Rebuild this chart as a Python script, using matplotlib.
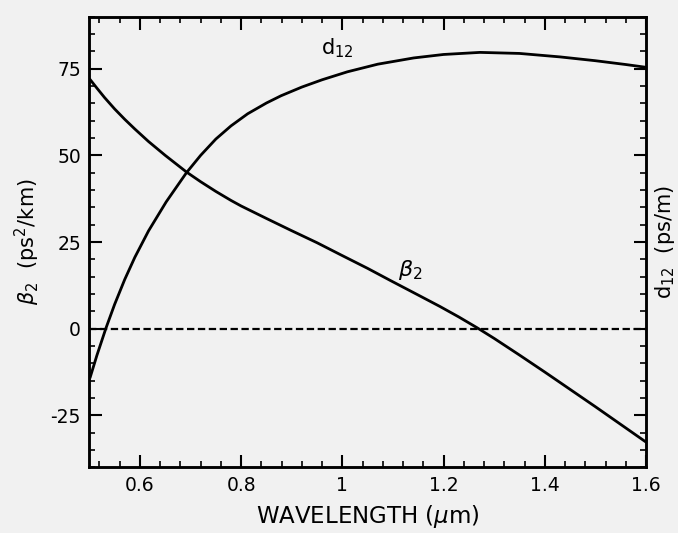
"""
Group-velocity dispersion beta2 and walk-off d12 versus wavelength
"""

import matplotlib.pyplot as plt
from matplotlib.ticker import MultipleLocator

#---------------------------------------------------------------------------------------------------
# Data
#---------------------------------------------------------------------------------------------------

# beta2 curve (ps^2/km)
wl_beta2 = [0.502, 0.515, 0.53, 0.55, 0.57, 0.59, 0.617, 0.65, 0.692, 0.72, 0.75, 0.78, 0.80,
            0.85, 0.898, 0.95, 0.997, 1.05, 1.095, 1.15, 1.193, 1.23, 1.266, 1.30, 1.35, 1.40,
            1.436, 1.50, 1.55, 1.60]
beta2 = [71.8, 69.4, 66.7, 63.4, 60.4, 57.6, 54.0, 50.0, 45.2, 42.4, 39.6, 37.0, 35.4,
         31.8, 28.4, 24.8, 21.3, 17.4, 13.9, 9.7, 6.4, 3.4, 0.3, -2.8, -7.6, -12.5,
         -16.1, -22.5, -27.6, -32.7]

# d12 curve (ps/m)
wl_d12 = [0.502, 0.515, 0.533, 0.55, 0.57, 0.59, 0.617, 0.652, 0.692, 0.72, 0.75, 0.78, 0.813,
          0.85, 0.879, 0.92, 0.96, 1.01, 1.07, 1.141, 1.20, 1.272, 1.35, 1.43, 1.50, 1.56, 1.60]
d12 = [-13.9, -7.7, 0.2, 7.0, 14.2, 20.6, 28.2, 36.6, 45.0, 50.0, 54.7, 58.5, 62.0,
       65.1, 67.2, 69.7, 71.8, 74.1, 76.3, 78.1, 79.1, 79.7, 79.4, 78.4, 77.3, 76.2, 75.4]

xticks = [0.6, 0.8, 1.0, 1.2, 1.4, 1.6]
xticklabels = ['0.6', '0.8', '1', '1.2', '1.4', '1.6']
yticks = [-25, 0, 25, 50, 75]

#---------------------------------------------------------------------------------------------------
# Plot
#---------------------------------------------------------------------------------------------------

plt.rcParams['font.family'] = 'DejaVu Sans'
plt.rcParams['axes.unicode_minus'] = False
bg = '#f1f1f1'

fig = plt.figure(figsize=(6.78, 5.33), dpi=100, facecolor=bg)
ax = fig.add_axes([0.1317, 0.1231, 0.8211, 0.8456], facecolor=bg)
ax2 = ax.twinx()

ax.plot(wl_beta2, beta2, color='k', lw=2.0, solid_joinstyle='round')
ax2.plot(wl_d12, d12, color='k', lw=2.0, solid_joinstyle='round')
ax.axhline(0, color='k', lw=1.6, ls=(0, (3.3, 1.6)))

ax.set_xlim(0.5, 1.6)
ax.set_ylim(-40, 90)
ax2.set_ylim(-40, 90)

ax.set_xticks(xticks)
ax.set_xticklabels(xticklabels)
ax.set_yticks(yticks)
ax.xaxis.set_minor_locator(MultipleLocator(0.04))
ax.yaxis.set_minor_locator(MultipleLocator(5))
ax2.set_yticks(yticks)
ax2.yaxis.set_minor_locator(MultipleLocator(5))
ax2.set_yticklabels([])

ax.tick_params(axis='both', which='major', direction='in', length=9, width=1.5,
               labelsize=13.5, top=True, pad=6)
ax.tick_params(axis='both', which='minor', direction='in', length=4.5, width=1.2, top=True)
ax.tick_params(axis='y', which='both', right=False)
ax2.tick_params(axis='y', which='major', direction='in', length=9, width=1.5, pad=0)
ax2.tick_params(axis='y', which='minor', direction='in', length=4.5, width=1.2)

for a in (ax, ax2):
    for s in a.spines.values():
        s.set_linewidth(1.8)

# Labels
ax.set_xlabel(r'WAVELENGTH ($\mu$m)', fontsize=16.5, labelpad=6)
ax.set_ylabel(r'$\beta_2$  (ps$^2$/km)', fontsize=15, labelpad=6)
ax2.set_ylabel(r'd$_{12}$  (ps/m)', fontsize=15, labelpad=2)

# Curve labels
ax.text(0.99, 81.0, r'd$_{12}$', fontsize=15, ha='center', va='center')
ax.text(1.134, 17.0, r'$\beta_2$', fontsize=16, ha='center', va='center')

plt.savefig('out.png', dpi=100, facecolor=bg)
plt.close()
